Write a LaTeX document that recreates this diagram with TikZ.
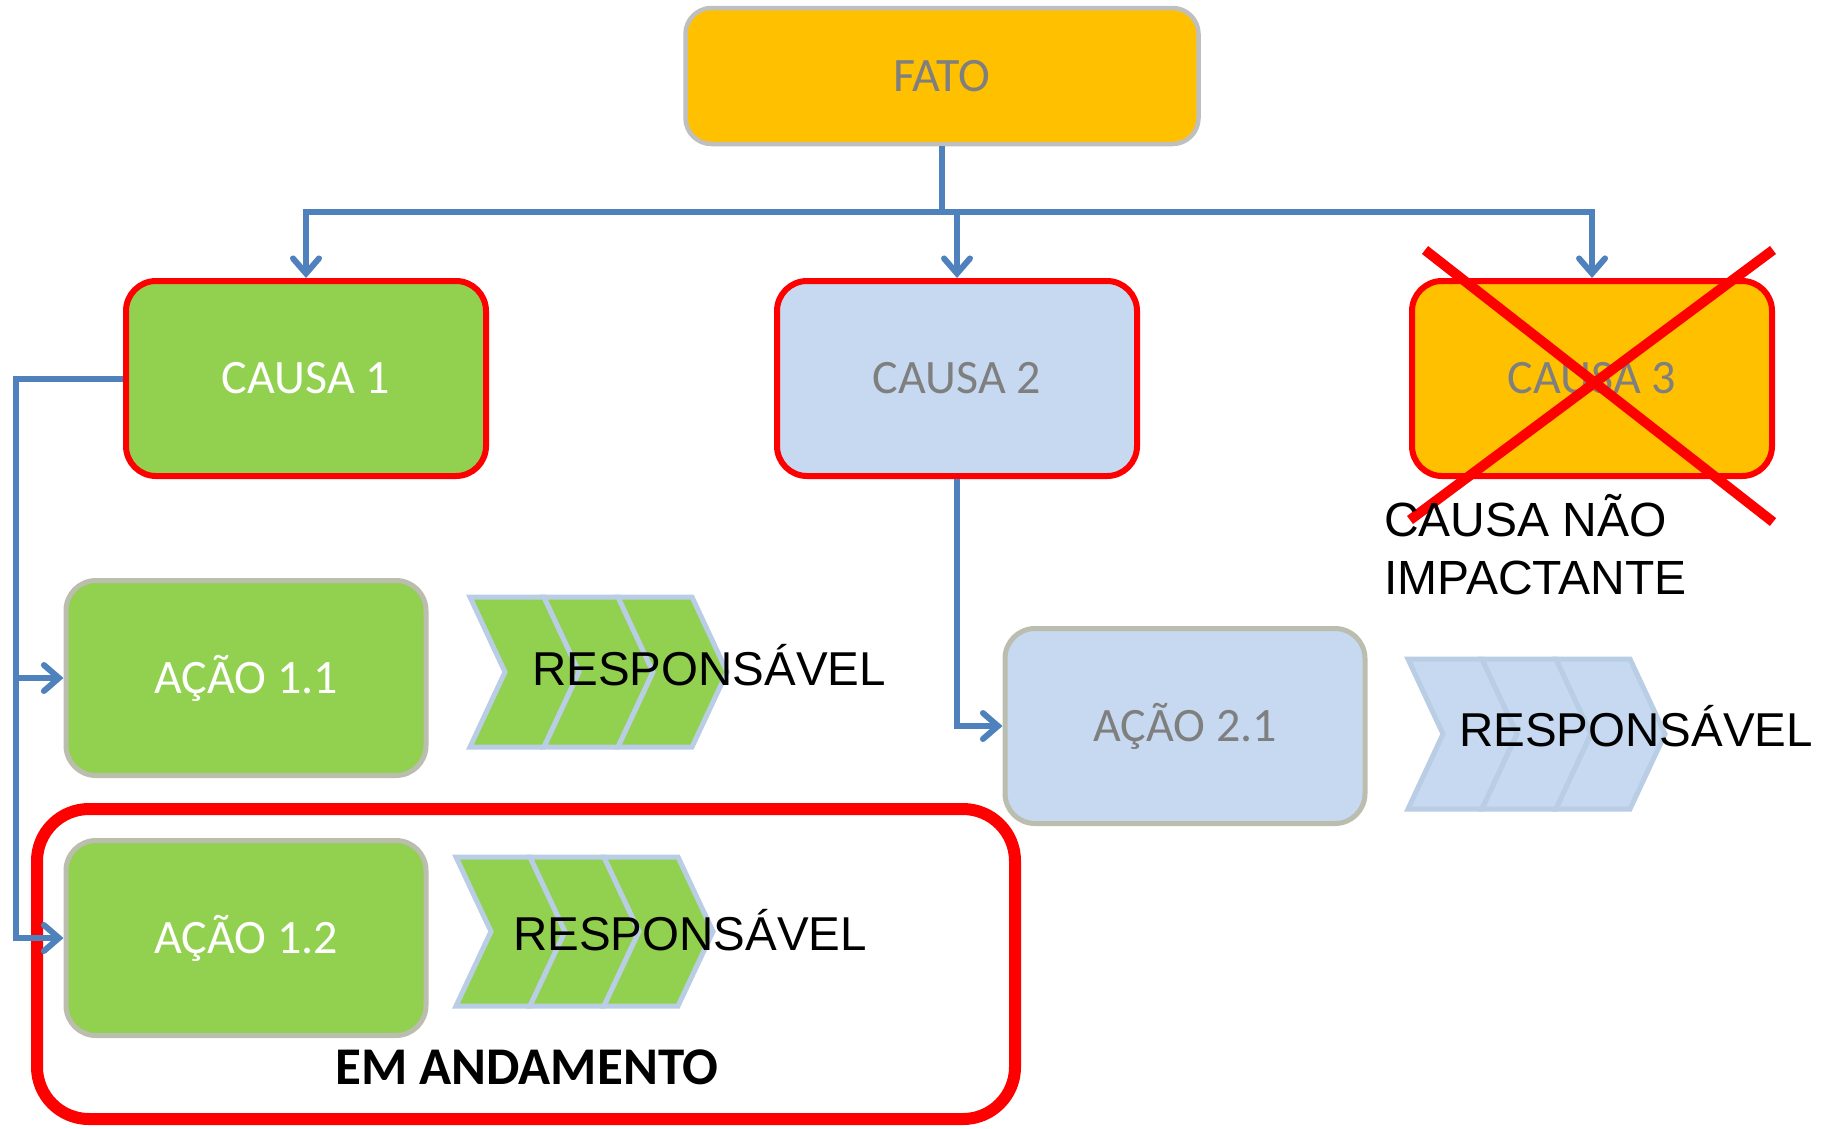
\documentclass[tikz,border=0pt]{standalone}
\usepackage{fontspec}
\setmainfont{Carlito}
\newfontfamily\arialf{Liberation Sans}
\usetikzlibrary{arrows.meta}
\definecolor{cgreen}{HTML}{92D050}
\definecolor{corange}{HTML}{FFC000}
\definecolor{cblue}{HTML}{C6D9F1}
\definecolor{cgraytext}{HTML}{7F7F7F}
\definecolor{cfatoborder}{HTML}{BFBFBF}
\definecolor{cactborder}{HTML}{BBBDAE}
\definecolor{cchevborder}{HTML}{B9CDE5}
\definecolor{cline}{HTML}{4F81BD}
\definecolor{cred}{HTML}{FF0000}
\begin{document}
\begin{tikzpicture}[x=1pt,y=-1pt,
  boxbase/.style={rectangle, rounded corners=30pt, inner sep=0pt,
    font=\fontsize{48}{52}\selectfont},
  causabox/.style={boxbase, draw=cred, line width=6pt,
    minimum width=360pt, minimum height=195pt},
  acaobox/.style={boxbase, draw=cactborder, line width=5pt,
    minimum width=360pt, minimum height=195pt},
  conn/.style={draw=cline, line width=6pt},
  arr/.style={conn, -{Straight Barb[length=15pt,width=26pt,line width=6pt,line cap=round]}},
  chevshape/.style={draw=cchevborder, line width=5pt, line join=miter},
  resp/.style={font=\arialf\fontsize{47.5}{57}\selectfont, inner sep=0pt, anchor=base west},
  nao/.style={font=\arialf\fontsize{48}{58}\selectfont, inner sep=0pt, anchor=base west},
  xline/.style={draw=cred, line width=10pt}
]
\useasboundingbox (0,0) rectangle (1827,1128);

% EM ANDAMENTO frame
\node[draw=cred, line width=12pt, rounded corners=52pt, minimum width=978pt,
  minimum height=310pt, inner sep=0pt] (andamento) at (526,964) {};

% boxes
\node[boxbase, fill=corange, draw=cfatoborder, line width=4.5pt,
  minimum width=513pt, minimum height=136pt, rounded corners=26pt,
  text=cgraytext] (fato) at (942,76) {FATO};
\node[causabox, fill=cgreen, text=white] (c1) at (306,378.5) {CAUSA 1};
\node[causabox, fill=cblue, text=cgraytext] (c2) at (957,378.5) {CAUSA 2};
\node[causabox, fill=corange, text=cgraytext] (c3) at (1592,378.5) {CAUSA 3};
\node[acaobox, fill=cgreen, text=white] (a11) at (246,678) {AÇÃO 1.1};
\node[acaobox, fill=cgreen, text=white] (a12) at (246,938) {AÇÃO 1.2};
\node[acaobox, fill=cblue, text=cgraytext] (a21) at (1185,726) {AÇÃO 2.1};

% connectors
\coordinate (j) at (942,212);
\coordinate (lx) at (16,0);
\draw[conn] (fato.south) -- (fato.south |- j);
\draw[arr] (fato.south |- j) -| (c1.north);
\draw[arr] (fato.south |- j) -| (c3.north);
\draw[arr] (c2.north |- j) -- (c2.north);
\draw[arr] (c1.west) -- (c1.west -| lx) |- (a12.west);
\draw[arr] (lx |- a11.west) -- (a11.west);
\draw[arr] (c2.south) |- (a21.west);

% chevrons
\foreach \i in {0,1,2}{
  \draw[chevshape, fill=cgreen] ({470+74*\i},597) -- ++(74,0) -- ++(35,75) -- ++(-35,75) -- ++(-74,0) -- ++(35,-75) -- cycle;
  \draw[chevshape, fill=cgreen] ({456+74*\i},857) -- ++(74,0) -- ++(35,74.5) -- ++(-35,74.5) -- ++(-74,0) -- ++(35,-74.5) -- cycle;
  \draw[chevshape, fill=cblue] ({1408+74*\i},659) -- ++(74,0) -- ++(35,75) -- ++(-35,75) -- ++(-74,0) -- ++(35,-75) -- cycle;
}
\node[resp] (r11) at (532,685) {RESPONSÁVEL};
\node[resp] (r12) at (513,950) {RESPONSÁVEL};
\node[resp] (r21) at (1459,746) {RESPONSÁVEL};

% cross on CAUSA 3
\draw[xline] (1425,250) -- (1773,522);
\draw[xline] (1773,250) -- (1410,520);

% labels
\node[nao] (nao1) at (1384,536) {CAUSA NÃO};
\node[nao] (nao2) at (1384,594) {IMPACTANTE};
\node[font=\bfseries\fontsize{53}{60}\selectfont, inner sep=0pt, anchor=base]
  (emtxt) at (527,1084) {EM ANDAMENTO};
\end{tikzpicture}
\end{document}
